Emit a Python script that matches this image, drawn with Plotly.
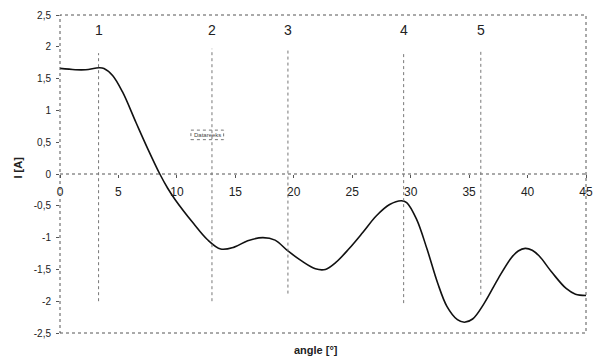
import plotly.graph_objects as go

# Measured current versus angle
angle = [0, 1.3, 2.2, 3.33, 3.76, 4.5, 5.35, 6.5, 7.5, 8.54, 9.2, 9.84, 11.43, 12.6,
         13.75, 14.9, 16.06, 17.36, 18.4, 19.5, 20.7, 21.85, 22.7, 23.6, 24.7,
         25.9, 27.05, 28.2, 29.2, 29.66, 30.5, 31.4, 32.3, 33.1, 34.0, 34.6,
         35.3, 36.3, 37.5, 38.6, 39.2, 39.8, 40.4, 41.0, 42.1, 43.3, 44.1, 45]
current = [1.66, 1.64, 1.64, 1.67, 1.66, 1.55, 1.29, 0.81, 0.40, 0.0, -0.22, -0.40,
           -0.78, -1.03, -1.18, -1.15, -1.05, -1.0, -1.04, -1.21, -1.37, -1.49,
           -1.5, -1.39, -1.18, -0.92, -0.66, -0.48, -0.42, -0.45, -0.71, -1.18,
           -1.71, -2.08, -2.29, -2.33, -2.28, -2.03, -1.64, -1.32, -1.21, -1.17,
           -1.2, -1.29, -1.55, -1.8, -1.89, -1.91]

# Numbered reference positions
marker_labels = ["1", "2", "3", "4", "5"]
marker_angle = [3.3, 13.0, 19.5, 29.4, 36.0]
marker_top = [1.9, 1.97, 1.97, 1.9, 1.95]
marker_bottom = [-2.0, -2.0, -1.88, -2.03, -1.9]

y_ticks = [2.5, 2, 1.5, 1, 0.5, 0, -0.5, -1, -1.5, -2, -2.5]
y_tick_text = ["2,5", "2", "1,5", "1", "0,5", "0", "-0,5", "-1", "-1,5", "-2", "-2,5"]
x_ticks = [0, 5, 10, 15, 20, 25, 30, 35, 40, 45]

FONT = "Liberation Sans, Arial, sans-serif"
INK = "#222222"
DOT = "#555555"

fig = go.Figure()
fig.add_trace(go.Scatter(
    x=angle, y=current, mode="lines",
    line=dict(color="#111111", width=1.6, shape="spline", smoothing=1.0),
    showlegend=False, hoverinfo="skip",
))

shapes = [
    # dotted frame around the plot area
    dict(type="rect", xref="paper", yref="paper", x0=0, x1=1, y0=0, y1=1,
         line=dict(color=DOT, width=1, dash="dot")),
    # dotted zero line
    dict(type="line", xref="x", yref="y", x0=0, x1=45, y0=0, y1=0,
         line=dict(color=DOT, width=1, dash="dot")),
]
annotations = []
for lab, xa, yt, yb in zip(marker_labels, marker_angle, marker_top, marker_bottom):
    shapes.append(dict(type="line", xref="x", yref="y", x0=xa, x1=xa, y0=yb, y1=yt,
                       line=dict(color="#777777", width=1, dash="dot")))
    annotations.append(dict(x=xa, y=2.27, xref="x", yref="y", text=lab,
                            showarrow=False, font=dict(family=FONT, size=14, color=INK)))

# small series tag box
shapes.append(dict(type="rect", xref="x", yref="y", x0=11.2, x1=14.0, y0=0.54, y1=0.69,
                   line=dict(color="#777777", width=1, dash="dot")))
annotations.append(dict(x=12.6, y=0.615, xref="x", yref="y", text="Datareeks",
                        showarrow=False, font=dict(family=FONT, size=6, color="#444444")))

# axis titles
annotations.append(dict(x=0.487, y=-0.053, xref="paper", yref="paper",
                        xanchor="center", yanchor="middle",
                        text="<b>angle [°]</b>", showarrow=False,
                        font=dict(family=FONT, size=11, color=INK)))
annotations.append(dict(x=-0.08, y=0.52, xref="paper", yref="paper",
                        xanchor="center", yanchor="middle",
                        text="<b>I [A]</b>", textangle=-90, showarrow=False,
                        font=dict(family=FONT, size=11, color=INK)))

fig.update_layout(
    width=593, height=362,
    margin=dict(l=60, r=7, t=15, b=29, autoexpand=False),
    paper_bgcolor="white", plot_bgcolor="white",
    shapes=shapes, annotations=annotations,
    xaxis=dict(range=[0, 45], tickvals=x_ticks, showgrid=False, zeroline=False,
               showline=False, anchor="free", position=0.5,
               ticks="outside", ticklen=3, tickcolor=DOT, ticklabelstandoff=4,
               tickfont=dict(family=FONT, size=12, color=INK)),
    yaxis=dict(range=[-2.5, 2.5], tickvals=y_ticks, ticktext=y_tick_text,
               showgrid=False, zeroline=False, showline=False,
               ticks="outside", ticklen=3, tickcolor=DOT, ticklabelstandoff=3,
               tickfont=dict(family=FONT, size=10, color=INK)),
)

fig.write_html("out.html")
